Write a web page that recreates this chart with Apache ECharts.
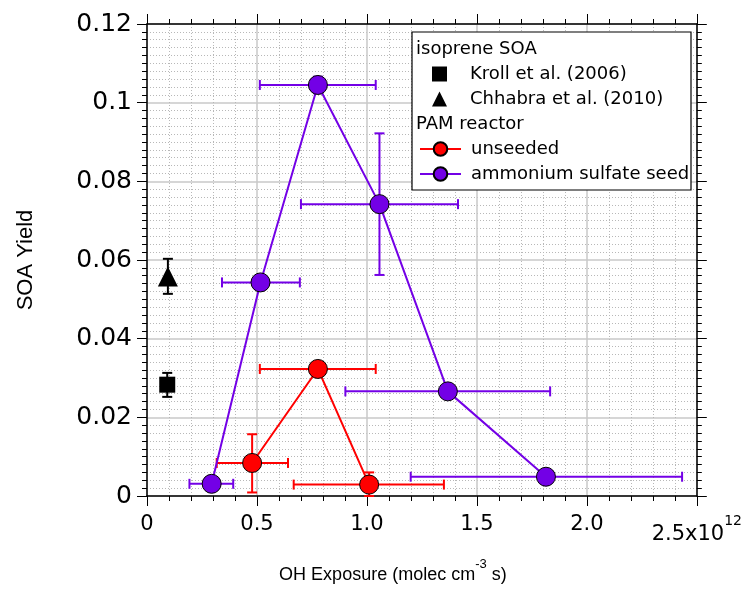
<!DOCTYPE html>
<html>
<head>
<meta charset="utf-8">
<script src="https://cdn.jsdelivr.net/npm/echarts@6/dist/echarts.min.js"></script>
<style>
  html, body { margin: 0; padding: 0; background: #fff; }
  #chart { width: 745px; height: 589px; }
</style>
</head>
<body>
<div id="chart"></div>
<script>
// PAM reactor, ammonium sulfate seed
const seedX = [0.294, 0.516, 0.777, 1.057, 1.368, 1.814]
const seedY = [0.0031, 0.0543, 0.1045, 0.0742, 0.0266, 0.0049]
const seedXLow = [0.193, 0.341, 0.513, 0.700, 0.902, 1.199]
const seedXHigh = [0.392, 0.695, 1.040, 1.414, 1.833, 2.433]
const seedYLow = [0.0031, 0.0543, 0.1024, 0.0562, 0.0266, 0.0049]
const seedYHigh = [0.0031, 0.0543, 0.1066, 0.0922, 0.0266, 0.0049]

// PAM reactor, unseeded
const unsX = [0.478, 0.777, 1.010]
const unsY = [0.0084, 0.0323, 0.0029]
const unsXLow = [0.317, 0.513, 0.667]
const unsXHigh = [0.641, 1.040, 1.350]
const unsYLow = [0.0009, 0.0323, 0.0000]
const unsYHigh = [0.0157, 0.0323, 0.0060]

// literature isoprene SOA
const krollX = [0.092]
const krollY = [0.0283]
const krollYLow = [0.0252]
const krollYHigh = [0.0313]
const chhabraX = [0.095]
const chhabraY = [0.0558]
const chhabraYLow = [0.0514]
const chhabraYHigh = [0.0603]

const xTickLabels = ['0', '0.5', '1.0', '1.5', '2.0', '2.5x10']
const xExponent = '12'
const yTickLabels = ['0', '0.02', '0.04', '0.06', '0.08', '0.1', '0.12']

const PURPLE = '#7300e6'
const RED = '#ff0000'
const NUM_FONT = 'DejaVu Sans'
const TXT_FONT = 'Liberation Sans'

const pairs = (xs, ys) => xs.map((x, i) => [x, ys[i]])
const errRows = (xs, ys, xl, xh, yl, yh) =>
  xs.map((x, i) => [x, ys[i], xl ? xl[i] : x, xh ? xh[i] : x, yl ? yl[i] : ys[i], yh ? yh[i] : ys[i]])

function renderErrorBars(params, api) {
  const x = api.value(0)
  const y = api.value(1)
  const xLo = api.value(2)
  const xHi = api.value(3)
  const yLo = api.value(4)
  const yHi = api.value(5)
  const style = { stroke: api.visual('color'), lineWidth: 2 }
  const cap = 5
  const children = []
  if (xHi > xLo) {
    const a = api.coord([xLo, y])
    const b = api.coord([xHi, y])
    children.push({ type: 'line', shape: { x1: a[0], y1: a[1], x2: b[0], y2: b[1] }, style })
    children.push({ type: 'line', shape: { x1: a[0], y1: a[1] - cap, x2: a[0], y2: a[1] + cap }, style })
    children.push({ type: 'line', shape: { x1: b[0], y1: b[1] - cap, x2: b[0], y2: b[1] + cap }, style })
  }
  if (yHi > yLo) {
    const a = api.coord([x, yLo])
    const b = api.coord([x, yHi])
    children.push({ type: 'line', shape: { x1: a[0], y1: a[1], x2: b[0], y2: b[1] }, style })
    children.push({ type: 'line', shape: { x1: a[0] - cap, y1: a[1], x2: a[0] + cap, y2: a[1] }, style })
    children.push({ type: 'line', shape: { x1: b[0] - cap, y1: b[1], x2: b[0] + cap, y2: b[1] }, style })
  }
  return { type: 'group', children }
}

const errorSeries = (name, color, rows) => ({
  name,
  type: 'custom',
  renderItem: renderErrorBars,
  itemStyle: { color },
  encode: { x: 0, y: 1 },
  z: 2,
  silent: true,
  data: rows
})

const xBase = {
  type: 'value',
  min: 0,
  max: 2.5,
  interval: 0.5,
  axisLine: { show: true, onZero: false, lineStyle: { color: '#000', width: 1.5 } },
  axisTick: { show: true, inside: false, length: 10, lineStyle: { color: '#000', width: 1 } },
  minorTick: { show: true, splitNumber: 5, length: 5, lineStyle: { color: '#000', width: 1 } }
}

const yBase = {
  type: 'value',
  min: 0,
  max: 0.12,
  interval: 0.02,
  axisLine: { show: true, onZero: false, lineStyle: { color: '#000', width: 1.5 } },
  axisTick: { show: true, inside: false, length: 10, lineStyle: { color: '#000', width: 1 } },
  minorTick: { show: true, splitNumber: 10, length: 5, lineStyle: { color: '#000', width: 1 } }
}

const chart = echarts.init(document.getElementById('chart'))

const option = {
  animation: false,
  backgroundColor: '#fff',
  grid: { left: 147, right: 47, top: 24, bottom: 87, containLabel: false },
  xAxis: [
    {
      ...xBase,
      position: 'bottom',
      name: '{n|OH Exposure (molec cm}{sup|-3}{n| s)}',
      nameLocation: 'middle',
      nameGap: 62,
      nameTextStyle: {
        padding: [0, 58, 0, 0],
        rich: {
          n: { fontFamily: TXT_FONT, fontSize: 18, color: '#000', verticalAlign: 'bottom', padding: [8, 0, 0, 0] },
          sup: { fontFamily: TXT_FONT, fontSize: 13, color: '#000', verticalAlign: 'top' }
        }
      },
      axisLabel: {
        margin: 18,
        fontFamily: NUM_FONT,
        fontSize: 21,
        color: '#000',
        formatter: (v) => {
          const i = Math.round(v / 0.5)
          if (i === xTickLabels.length - 1) return '{b|' + xTickLabels[i] + '}{sup|' + xExponent + '}'
          return xTickLabels[i]
        },
        rich: {
          b: { fontFamily: NUM_FONT, fontSize: 21, color: '#000', verticalAlign: 'bottom', padding: [10, 0, 0, 0] },
          sup: { fontFamily: NUM_FONT, fontSize: 14, color: '#000', verticalAlign: 'top' }
        }
      },
      splitLine: { show: true, lineStyle: { color: '#c8c8c8', width: 1.5 } },
      minorSplitLine: { show: true, lineStyle: { color: '#b8b8b8', width: 1, type: [1, 2] } }
    },
    {
      ...xBase,
      position: 'top',
      axisLabel: { show: false },
      splitLine: { show: false }
    }
  ],
  yAxis: [
    {
      ...yBase,
      position: 'left',
      name: 'SOA Yield',
      nameLocation: 'middle',
      nameGap: 110,
      nameRotate: 90,
      nameTextStyle: { fontFamily: TXT_FONT, fontSize: 22, color: '#000' },
      axisLabel: {
        margin: 15,
        fontFamily: NUM_FONT,
        fontSize: 25,
        color: '#000',
        formatter: (v) => yTickLabels[Math.round(v / 0.02)]
      },
      splitLine: { show: true, lineStyle: { color: '#c8c8c8', width: 1.5 } },
      minorSplitLine: { show: true, lineStyle: { color: '#b8b8b8', width: 1, type: [1, 2] } }
    },
    {
      ...yBase,
      position: 'right',
      axisLabel: { show: false },
      splitLine: { show: false }
    }
  ],
  legend: [
    {
      orient: 'vertical',
      left: 427,
      top: 60,
      z: 10,
      selectedMode: false,
      itemWidth: 15,
      itemHeight: 15,
      itemGap: 7,
      textStyle: { fontFamily: NUM_FONT, fontSize: 18, color: '#000', padding: [0, 0, 0, 18] },
      data: [
        { name: 'Kroll et al. (2006)', icon: 'rect' },
        { name: 'Chhabra et al. (2010)', icon: 'triangle' }
      ]
    },
    {
      orient: 'vertical',
      left: 414,
      top: 135,
      z: 10,
      selectedMode: false,
      itemWidth: 41,
      itemHeight: 17,
      itemGap: 7,
      textStyle: { fontFamily: NUM_FONT, fontSize: 18, lineHeight: 17, color: '#000', padding: [0, 0, 0, 5] },
      data: ['unseeded', 'ammonium sulfate seed']
    }
  ],
  graphic: [
    {
      type: 'rect',
      z: 5,
      shape: { x: 412, y: 32, width: 279, height: 158 },
      style: { fill: '#fff', stroke: '#000', lineWidth: 1.2 }
    },
    {
      type: 'text',
      z: 6,
      left: 416,
      top: 40,
      style: { text: 'isoprene SOA', font: '18px "DejaVu Sans"', fill: '#000' }
    },
    {
      type: 'text',
      z: 6,
      left: 416,
      top: 115,
      style: { text: 'PAM reactor', font: '18px "DejaVu Sans"', fill: '#000' }
    }
  ],
  series: [
    errorSeries('unseeded err', RED, errRows(unsX, unsY, unsXLow, unsXHigh, unsYLow, unsYHigh)),
    errorSeries('seed err', PURPLE, errRows(seedX, seedY, seedXLow, seedXHigh, seedYLow, seedYHigh)),
    errorSeries('kroll err', '#000', errRows(krollX, krollY, null, null, krollYLow, krollYHigh)),
    errorSeries('chhabra err', '#000', errRows(chhabraX, chhabraY, null, null, chhabraYLow, chhabraYHigh)),
    {
      name: 'unseeded',
      type: 'line',
      z: 3,
      symbol: 'circle',
      symbolSize: 19,
      lineStyle: { color: RED, width: 2 },
      itemStyle: { color: RED, borderColor: '#000', borderWidth: 1 },
      data: pairs(unsX, unsY)
    },
    {
      name: 'ammonium sulfate seed',
      type: 'line',
      z: 3,
      symbol: 'circle',
      symbolSize: 19,
      lineStyle: { color: PURPLE, width: 2 },
      itemStyle: { color: PURPLE, borderColor: '#000', borderWidth: 1 },
      data: pairs(seedX, seedY)
    },
    {
      name: 'Kroll et al. (2006)',
      type: 'scatter',
      z: 3,
      symbol: 'rect',
      symbolSize: 16,
      itemStyle: { color: '#000', opacity: 1 },
      data: pairs(krollX, krollY)
    },
    {
      name: 'Chhabra et al. (2010)',
      type: 'scatter',
      z: 3,
      symbol: 'triangle',
      symbolSize: 20,
      itemStyle: { color: '#000', opacity: 1 },
      data: pairs(chhabraX, chhabraY)
    }
  ]
}

chart.setOption(option)
window.addEventListener('resize', () => {
  chart.resize()
})
</script>
</body>
</html>
